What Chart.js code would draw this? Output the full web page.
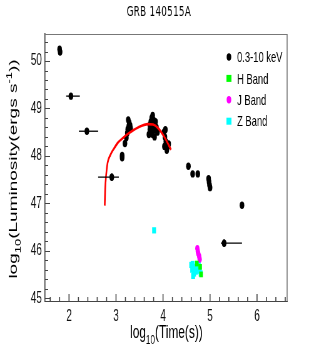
<!DOCTYPE html>
<html lang="en">
<head>
<meta charset="UTF-8">
<title>GRB 140515A</title>
<script src="https://cdn.jsdelivr.net/npm/chart.js"></script>
<style>
    html, body { margin: 0; padding: 0; background: #fff; }
    #grb { display: block; }
</style>
</head>
<body>
<!-- drawn 1.6x wider, then squeezed back like the original figure -->
<canvas id="grb" width="510" height="354" style="width:319px;height:354px"></canvas>
<script>
// ---- data (log10 time in s, log10 luminosity in erg/s) ----
const xrayT = [1.80, 1.81, 2.04, 2.38, 2.91, 3.13, 3.13, 3.19, 3.22, 3.24, 3.25, 3.27, 3.28, 3.30, 3.31, 3.26,
               3.70, 3.72, 3.72, 3.74, 3.74, 3.76, 3.76, 3.78, 3.78, 3.80, 3.80, 3.82, 3.82, 3.84, 3.84, 3.86, 3.88,
               4.02, 4.05, 4.04, 4.06, 4.03, 4.08, 4.10, 4.12,
               4.54, 4.63, 4.74, 4.97, 4.98, 4.99, 5.00, 5.68, 5.30];
const xrayL = [50.25, 50.19, 49.26, 48.52, 47.55, 47.96, 48.01, 48.26, 48.38, 48.48, 48.56, 48.62, 48.70, 48.64, 48.58, 48.76,
               48.45, 48.55, 48.65, 48.50, 48.72, 48.80, 48.60, 48.85, 48.45, 48.75, 48.58, 48.65, 48.40, 48.55, 48.72, 48.60, 48.50,
               48.50, 48.55, 48.40, 48.30, 48.20, 48.12, 48.20, 48.25,
               47.78, 47.62, 47.62, 47.52, 47.45, 47.38, 47.33, 46.96, 46.16];

// points that carry error bars
const errT    = [2.04, 2.38, 2.91, 5.30];
const errL    = [49.26, 48.52, 47.55, 46.16];
const errTLo  = [1.94, 2.21, 2.62, 5.23];
const errTHi  = [2.23, 2.62, 3.06, 5.68];
const errLSz  = [0.06, 0.06, 0.08, 0.08];

const hT = [4.72, 4.79, 4.81];
const hL = [45.73, 45.66, 45.50];
const jT = [4.73, 4.74, 4.75, 4.77, 4.78];
const jL = [46.05, 45.99, 45.94, 45.88, 45.82];
const zT = [3.81, 4.60, 4.63, 4.66, 4.62, 4.70, 4.66, 4.74, 4.78, 4.80, 4.76, 4.64];
const zL = [46.43, 45.70, 45.72, 45.66, 45.60, 45.56, 45.52, 45.63, 45.58, 45.52, 45.70, 45.47];

// red model curve
const modelT = [2.76, 2.77, 2.79, 2.82, 2.88, 2.96, 3.04, 3.15, 3.26, 3.47, 3.68, 3.79, 3.89, 4.04, 4.17];
const modelL = [46.95, 47.30, 47.60, 47.85, 48.02, 48.16, 48.28, 48.38, 48.47, 48.60, 48.67, 48.66, 48.59, 48.38, 48.13];

const seriesNames = ['0.3-10 keV', 'H Band', 'J Band', 'Z Band'];
const xTicks = [2, 3, 4, 5, 6];
const yTicks = [45, 46, 47, 48, 49, 50];

const FONT = '"Liberation Sans", Arial, sans-serif';

function toXY(ts, ls) {
    return ts.map((t, i) => ({ x: t, y: ls[i] }));
}

// text with sub/superscripts, centred on x
function richText(ctx, parts, x, y) {
    let w = 0;
    parts.forEach(p => { ctx.font = p.s + 'px ' + FONT; w += ctx.measureText(p.t).width; });
    let cx = x - w / 2;
    parts.forEach(p => {
        ctx.font = p.s + 'px ' + FONT;
        ctx.fillText(p.t, cx, y + p.dy);
        cx += ctx.measureText(p.t).width;
    });
}

const rootStyle = {
    id: 'rootStyle',
    afterDatasetsDraw(chart) {
        const { ctx, scales: { x, y } } = chart;
        ctx.save();
        ctx.strokeStyle = '#000';
        errT.forEach((t, i) => {
            const px = x.getPixelForValue(t);
            const py = y.getPixelForValue(errL[i]);
            ctx.lineWidth = 1.3;
            ctx.beginPath();
            ctx.moveTo(x.getPixelForValue(errTLo[i]), py);
            ctx.lineTo(x.getPixelForValue(errTHi[i]), py);
            ctx.stroke();
            ctx.lineWidth = 2.4;
            ctx.beginPath();
            ctx.moveTo(px, y.getPixelForValue(errL[i] - errLSz[i]));
            ctx.lineTo(px, y.getPixelForValue(errL[i] + errLSz[i]));
            ctx.stroke();
        });
        ctx.restore();
    },
    afterDraw(chart) {
        const { ctx, chartArea: a, scales: { x, y } } = chart;
        ctx.save();

        // top and right frame
        ctx.strokeStyle = '#777';
        ctx.lineWidth = 1;
        ctx.beginPath(); ctx.moveTo(a.left, a.top + 0.5); ctx.lineTo(a.right, a.top + 0.5); ctx.stroke();
        ctx.lineWidth = 1.6;
        ctx.beginPath(); ctx.moveTo(a.right, a.top); ctx.lineTo(a.right, a.bottom); ctx.stroke();

        // inward ticks, minor every 0.2
        ctx.strokeStyle = '#444';
        ctx.lineWidth = 1.6;
        for (let i = Math.ceil(x.min * 5); i <= Math.floor(x.max * 5); i++) {
            const px = x.getPixelForValue(i / 5);
            const len = i % 5 === 0 ? 7 : 4;
            ctx.beginPath(); ctx.moveTo(px, a.bottom); ctx.lineTo(px, a.bottom - len); ctx.stroke();
        }
        ctx.lineWidth = 1;
        for (let i = Math.ceil(y.min * 5); i <= Math.floor(y.max * 5); i++) {
            const py = Math.round(y.getPixelForValue(i / 5)) + 0.5;
            const len = i % 5 === 0 ? 8 : 5;
            ctx.beginPath(); ctx.moveTo(a.left, py); ctx.lineTo(a.left + len, py); ctx.stroke();
        }

        // titles
        ctx.fillStyle = '#000';
        ctx.textBaseline = 'alphabetic';
        ctx.font = '14px "DejaVu Sans", sans-serif';
        ctx.letterSpacing = '0.5px';
        ctx.textAlign = 'center';
        ctx.fillText('GRB 140515A', 254, 16);
        ctx.letterSpacing = '0px';
        ctx.textAlign = 'left';

        richText(ctx, [
            { t: 'log', s: 19, dy: 0 },
            { t: '10', s: 13, dy: 6 },
            { t: '(Time(s))', s: 19, dy: 0 }
        ], 266, 338);

        ctx.save();
        ctx.translate(27, 169);
        ctx.rotate(-Math.PI / 2);
        richText(ctx, [
            { t: 'log', s: 19, dy: 0 },
            { t: '10', s: 13, dy: 6 },
            { t: '(Luminosity(ergs s', s: 19, dy: 0 },
            { t: '-1', s: 13, dy: -8 },
            { t: '))', s: 19, dy: 0 }
        ], 0, 0);
        ctx.restore();

        // legend
        ctx.textBaseline = 'middle';
        ctx.font = '15px ' + FONT;
        chart.data.datasets.slice(1).forEach((ds, i) => {
            const cy = 57 + i * 21.4;
            const cx = 366;
            ctx.fillStyle = ds.backgroundColor;
            if (ds.pointStyle === 'rect') {
                ctx.fillRect(cx - 4, cy - 3.5, 8, 7);
            } else {
                ctx.beginPath(); ctx.arc(cx, cy, 3.7, 0, Math.PI * 2); ctx.fill();
            }
            ctx.fillStyle = '#000';
            ctx.fillText(ds.label, 379, cy + 1);
        });

        ctx.restore();
    }
};

new Chart(document.getElementById('grb'), {
    type: 'scatter',
    data: {
        datasets: [
            {
                label: 'model',
                data: toXY(modelT, modelL),
                showLine: true,
                borderColor: '#ff0000',
                borderWidth: 2.6,
                pointRadius: 0,
                cubicInterpolationMode: 'monotone',
                order: 0
            },
            {
                label: seriesNames[0],
                data: toXY(xrayT, xrayL),
                backgroundColor: '#000000',
                borderWidth: 0,
                pointRadius: 3.7,
                order: 1
            },
            {
                label: seriesNames[1],
                data: toXY(hT, hL),
                backgroundColor: '#00ff00',
                pointStyle: 'rect',
                borderWidth: 0,
                pointRadius: 4,
                order: 2
            },
            {
                label: seriesNames[2],
                data: toXY(jT, jL),
                backgroundColor: '#ff00ff',
                borderWidth: 0,
                pointRadius: 3.4,
                order: 3
            },
            {
                label: seriesNames[3],
                data: toXY(zT, zL),
                backgroundColor: '#00ffff',
                pointStyle: 'rect',
                borderWidth: 0,
                pointRadius: 4.4,
                order: 4
            }
        ]
    },
    options: {
        responsive: false,
        animation: false,
        devicePixelRatio: 1,
        layout: { padding: { top: 34, right: 51, left: 0, bottom: 0 } },
        plugins: {
            legend: { display: false },
            tooltip: { enabled: false },
            title: { display: false }
        },
        scales: {
            x: {
                type: 'linear',
                min: 1.49,
                max: 6.64,
                grid: { display: false, drawTicks: false },
                border: { display: true, color: '#444', width: 1 },
                ticks: { font: { family: FONT, size: 16 }, color: '#111', padding: 6 },
                afterBuildTicks: s => { s.ticks = xTicks.map(v => ({ value: v })); },
                afterFit: s => { s.height = 53; }
            },
            y: {
                type: 'linear',
                min: 44.94,
                max: 50.57,
                grid: { display: false, drawTicks: false },
                border: { display: true, color: '#444', width: 1.6 },
                ticks: { font: { family: FONT, size: 16 }, color: '#111', padding: 5 },
                afterBuildTicks: s => { s.ticks = yTicks.map(v => ({ value: v })); },
                afterFit: s => { s.width = 72; }
            }
        }
    },
    plugins: [rootStyle]
});
</script>
</body>
</html>
